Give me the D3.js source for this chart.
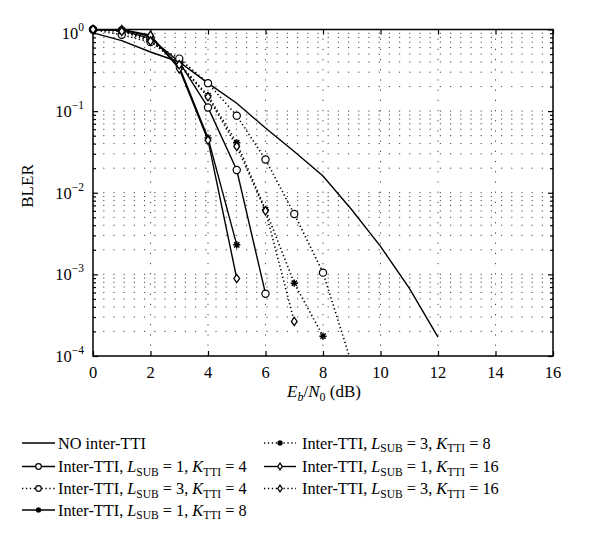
<!DOCTYPE html>
<html><head><meta charset="utf-8">
<script src="https://cdn.jsdelivr.net/npm/d3@7"></script>
<style>body{margin:0;background:#fff;}svg{display:block;}</style>
</head><body>
<svg id="chart" width="600" height="542"></svg>
<script>
// ---- data ----
const xTicks = [0, 2, 4, 6, 8, 10, 12, 14, 16];
const yTickExps = [0, -1, -2, -3, -4];
const noInterX = [0, 1, 2, 3, 4, 5, 6, 7, 8, 9, 10, 11, 12];
const noInterY = [0.91, 0.73, 0.53, 0.40, 0.22, 0.125, 0.062, 0.032, 0.016, 0.0062, 0.0022, 0.00068, 0.00017];
const l1k4X = [0, 1, 2, 3, 4, 5, 6];
const l1k4Y = [1.0, 0.97, 0.78, 0.40, 0.111, 0.019, 0.00058];
const l3k4X = [0, 1, 2, 3, 4, 5, 6, 7, 8, 9];
const l3k4Y = [1.0, 0.86, 0.70, 0.44, 0.22, 0.088, 0.0255, 0.0055, 0.00105, 0.00008];
const l1k8X = [0, 1, 2, 3, 4, 5];
const l1k8Y = [1.0, 1.0, 0.82, 0.35, 0.047, 0.0023];
const l3k8X = [0, 1, 2, 3, 4, 5, 6, 7, 8];
const l3k8Y = [1.0, 0.95, 0.75, 0.38, 0.155, 0.041, 0.0062, 0.00078, 0.000175];
const l1k16X = [0, 1, 2, 3, 4, 5];
const l1k16Y = [1.0, 1.0, 0.85, 0.33, 0.044, 0.00089];
const l3k16X = [0, 1, 2, 3, 4, 5, 6, 7];
const l3k16Y = [1.0, 0.95, 0.72, 0.37, 0.15, 0.037, 0.006, 0.000265];

const seriesNames = ["NO inter-TTI", "L1K4", "L3K4", "L1K8", "L3K8", "L1K16", "L3K16"];
const seriesL = [null, 1, 3, 1, 3, 1, 3];
const seriesK = [null, 4, 4, 8, 8, 16, 16];
const seriesMarker = ["none", "circle", "circle", "star", "star", "diamond", "diamond"];
const seriesDotted = [false, false, true, false, true, false, true];
const seriesXs = [noInterX, l1k4X, l3k4X, l1k8X, l3k8X, l1k16X, l3k16X];
const seriesYs = [noInterY, l1k4Y, l3k4Y, l1k8Y, l3k8Y, l1k16Y, l3k16Y];

// ---- layout ----
const FONT = "Liberation Serif";
const L = 93, R = 553, T = 29.5, B = 356;
const svg = d3.select("#chart");
const x = d3.scaleLinear().domain([0, 16]).range([L, R]);
const y = d3.scaleLog().domain([1e-4, 1]).range([B, T]);

// grid
const minorVals = [];
for (let e = -4; e < 0; e++) for (let m = 1; m <= 9; m++) { const v = m * Math.pow(10, e); if (v > 1e-4) minorVals.push(v); }
const grid = svg.append("g").attr("stroke", "#444").attr("stroke-width", 1).attr("stroke-dasharray", "1.2,9");
grid.selectAll("line.h").data(minorVals).enter().append("line")
  .attr("x1", L).attr("x2", R).attr("y1", d => y(d)).attr("y2", d => y(d));
grid.selectAll("line.v").data(xTicks.slice(1, -1)).enter().append("line")
  .attr("y1", B).attr("y2", T).attr("x1", d => x(d)).attr("x2", d => x(d));

// axes ticks
const tickStyle = g => { g.select(".domain").remove(); g.selectAll("line").attr("stroke", "#000").attr("stroke-width", 1.2); g.selectAll("text").remove(); };
svg.append("g").attr("transform", `translate(0,${B})`).call(d3.axisBottom(x).tickValues(xTicks).tickSize(-5)).call(tickStyle);
svg.append("g").attr("transform", `translate(0,${T})`).call(d3.axisTop(x).tickValues(xTicks).tickSize(-5)).call(tickStyle);
const majors = yTickExps.map(e => Math.pow(10, e));
svg.append("g").attr("transform", `translate(${L},0)`).call(d3.axisLeft(y).tickValues(majors).tickSize(-5)).call(tickStyle);
svg.append("g").attr("transform", `translate(${R},0)`).call(d3.axisRight(y).tickValues(majors).tickSize(-5)).call(tickStyle);
const minorOnly = minorVals.filter(v => !majors.some(m => Math.abs(m - v) / v < 1e-9));
svg.append("g").attr("transform", `translate(${L},0)`).call(d3.axisLeft(y).tickValues(minorOnly).tickSize(-3)).call(tickStyle);
svg.append("g").attr("transform", `translate(${R},0)`).call(d3.axisRight(y).tickValues(minorOnly).tickSize(-3)).call(tickStyle);

// tick labels
svg.append("g").selectAll("text").data(xTicks).enter().append("text").style("font-family", FONT)
  .attr("x", d => x(d)).attr("y", B + 22).attr("text-anchor", "middle").attr("font-size", 16.5).text(d => d);
const yl = svg.append("g").selectAll("text").data(yTickExps).enter().append("text").style("font-family", FONT)
  .attr("x", L - 9).attr("y", d => y(Math.pow(10, d)) + (d === 0 ? 9.5 : 6)).attr("text-anchor", "end").attr("font-size", 16.5);
yl.append("tspan").text("10");
yl.append("tspan").attr("font-size", 11.5).attr("dy", -8).text(d => d === 0 ? "0" : "\u2212" + (-d));

// frame
svg.append("rect").attr("x", L).attr("y", T).attr("width", R - L).attr("height", B - T)
  .attr("fill", "none").attr("stroke", "#000").attr("stroke-width", 1.5);

// axis labels
svg.append("text").style("font-family", FONT).attr("transform", `translate(33,186) rotate(-90)`).attr("text-anchor", "middle").attr("font-size", 17).text("BLER");
const xl = svg.append("text").style("font-family", FONT).attr("x", 324).attr("y", 397).attr("text-anchor", "middle").attr("font-size", 17);
xl.append("tspan").attr("font-style", "italic").text("E");
xl.append("tspan").attr("font-style", "italic").attr("font-size", 12).attr("dy", 4).text("b");
xl.append("tspan").attr("dy", -4).text("/");
xl.append("tspan").attr("font-style", "italic").text("N");
xl.append("tspan").attr("font-size", 12).attr("dy", 4).text("0");
xl.append("tspan").attr("dy", -4).text(" (dB)");

// markers
function drawMarker(g, type, cx, cy, s) {
  if (type === "circle") {
    g.append("circle").attr("cx", cx).attr("cy", cy).attr("r", s).attr("fill", "#fff").attr("stroke", "#000").attr("stroke-width", 1.2);
  } else if (type === "diamond") {
    g.append("path").attr("d", `M${cx},${cy - s - 0.6}L${cx + s * 0.8},${cy}L${cx},${cy + s + 0.6}L${cx - s * 0.8},${cy}Z`)
      .attr("fill", "#fff").attr("stroke", "#000").attr("stroke-width", 1.3);
  } else if (type === "star") {
    const a = s, b = s * 0.72;
    g.append("path").attr("d", `M${cx - a},${cy}L${cx + a},${cy}M${cx},${cy - a}L${cx},${cy + a}M${cx - b},${cy - b}L${cx + b},${cy + b}M${cx - b},${cy + b}L${cx + b},${cy - b}`)
      .attr("stroke", "#000").attr("stroke-width", 1.5).attr("fill", "none");
  }
}

// clip
svg.append("clipPath").attr("id", "clip").append("rect").attr("x", L).attr("y", T).attr("width", R - L).attr("height", B - T);
const plot = svg.append("g").attr("clip-path", "url(#clip)");
const line = d3.line().x(d => x(d[0])).y(d => y(d[1]));
seriesNames.forEach((n, i) => {
  const pts = seriesXs[i].map((xv, j) => [xv, seriesYs[i][j]]);
  plot.append("path").datum(pts).attr("d", line).attr("fill", "none").attr("stroke", "#000")
    .attr("stroke-width", seriesDotted[i] ? 1.6 : 1.4).attr("stroke-dasharray", seriesDotted[i] ? "1.3,2.6" : null);
});
const mk = svg.append("g");
seriesNames.forEach((n, i) => {
  if (seriesMarker[i] === "none") return;
  seriesXs[i].forEach((xv, j) => {
    const v = seriesYs[i][j];
    if (v < 1e-4) return;
    drawMarker(mk, seriesMarker[i], x(xv), y(v), 3.6);
  });
});

// legend
const legY = [443, 466.5, 488.5, 510];
const legPos = [[0, 0], [0, 1], [0, 2], [0, 3], [1, 0], [1, 1], [1, 2]];
const colSample = [[22, 55], [264, 296]];
const colText = [58, 302];
const leg = svg.append("g");
seriesNames.forEach((n, i) => {
  const [c, r] = legPos[i];
  const yy = legY[r];
  const [x1, x2] = colSample[c];
  leg.append("line").attr("x1", x1).attr("x2", x2).attr("y1", yy).attr("y2", yy).attr("stroke", "#000")
    .attr("stroke-width", seriesDotted[i] ? 1.6 : 1.4).attr("stroke-dasharray", seriesDotted[i] ? "1.3,2.6" : null);
  if (seriesMarker[i] !== "none") drawMarker(leg, seriesMarker[i], (x1 + x2) / 2, yy, 2.8);
  const t = leg.append("text").style("font-family", FONT).attr("x", colText[c]).attr("y", yy + 5.5).attr("font-size", 16.3);
  if (seriesL[i] === null) { t.text("NO inter-TTI"); return; }
  t.append("tspan").text("Inter-TTI, ");
  t.append("tspan").attr("font-style", "italic").text("L");
  t.append("tspan").attr("font-size", 11.5).attr("dy", 3.5).text("SUB");
  t.append("tspan").attr("dy", -3.5).text(" = " + seriesL[i] + ", ");
  t.append("tspan").attr("font-style", "italic").text("K");
  t.append("tspan").attr("font-size", 11.5).attr("dy", 3.5).text("TTI");
  t.append("tspan").attr("dy", -3.5).text(" = " + seriesK[i]);
});
</script>
</body></html>
